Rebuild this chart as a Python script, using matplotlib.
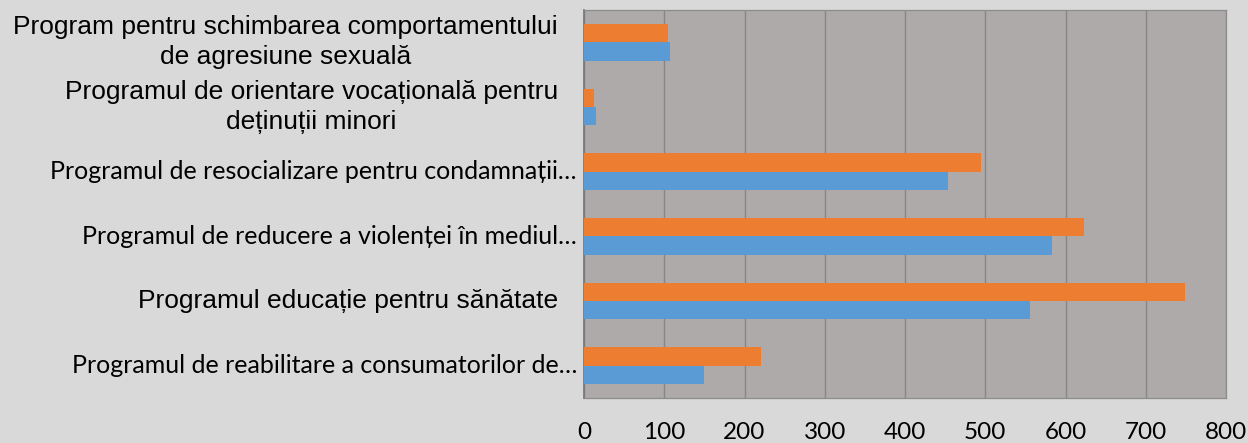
import numpy as np
import matplotlib.pyplot as plt

# categories, bottom to top
categories = [
    'Programul de reabilitare a consumatorilor de…',
    'Programul educație pentru sănătate',
    'Programul de reducere a violenței în mediul…',
    'Programul de resocializare pentru condamnații…',
    'Programul de orientare vocațională pentru\ndeținuții minori',
    'Program pentru schimbarea comportamentului\nde agresiune sexuală',
]
# which labels are drawn in the Arial-like font (the rest look like Calibri)
arial_labels = [False, True, False, False, True, True]

series_blue = [150, 556, 583, 454, 15, 107]
series_orange = [220, 749, 623, 495, 13, 105]
x_ticks = [0, 100, 200, 300, 400, 500, 600, 700, 800]

BLUE = '#5B9BD5'
ORANGE = '#ED7D31'
PLOT_BG = '#AEAAAA'
FIG_BG = '#D9D9D9'
GRID = '#868686'

fig = plt.figure(figsize=(12.48, 4.43), dpi=100, facecolor=FIG_BG)
ax = fig.add_axes([584 / 1248, 45 / 443, (1226 - 584) / 1248, (398 - 10) / 443])
ax.set_facecolor(PLOT_BG)

y = np.arange(len(categories))
h = 0.286
ax.barh(y - h / 2, series_blue, height=h, color=BLUE, zorder=3)
ax.barh(y + h / 2, series_orange, height=h, color=ORANGE, zorder=3)

ax.set_xlim(0, 800)
ax.set_ylim(-0.5, len(categories) - 0.5)
ax.set_xticks(x_ticks)
ax.set_xticklabels([str(t) for t in x_ticks], family=['Lato', 'DejaVu Sans'], fontsize=17.5)
ax.tick_params(axis='x', length=0, pad=17)
ax.set_yticks([])
ax.grid(axis='x', color=GRID, linewidth=1.0, zorder=1)
ax.set_axisbelow(True)

for s in ax.spines.values():
    s.set_color('#8C8C8C')
    s.set_linewidth(0.9)
ax.spines['left'].set_color('#7A7A7A')
ax.spines['left'].set_linewidth(1.3)

for yi, lab, is_arial in zip(y, categories, arial_labels):
    if is_arial:
        ax.text(-26 / 642, yi, lab, transform=ax.get_yaxis_transform(),
                ha='right', va='center', multialignment='center',
                family=['Liberation Sans', 'DejaVu Sans'], fontsize=19,
                linespacing=1.3)
    else:
        ax.text(-7 / 642, yi, lab, transform=ax.get_yaxis_transform(),
                ha='right', va='center',
                family=['Lato', 'DejaVu Sans'], fontsize=18)

fig.savefig('out.png', dpi=100, facecolor=FIG_BG)
